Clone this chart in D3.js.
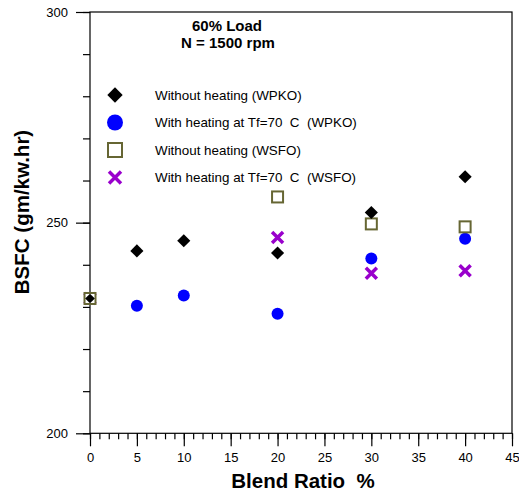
<!DOCTYPE html>
<html>
<head>
<meta charset="utf-8">
<script src="https://cdn.jsdelivr.net/npm/d3@7"></script>
<style>
  body { margin: 0; background: #fff; }
  svg { font-family: "Liberation Sans", Arial, sans-serif; }
  svg text { white-space: pre; }
</style>
</head>
<body>
<svg id="chart" width="519" height="495"></svg>
<script>
// data
const blendRatio = [0, 5, 10, 20, 30, 40];
const woHeatWPKO = [232, 243.3, 245.7, 242.8, 252.4, 260.9];
const heatWPKO = [232, 230.3, 232.7, 228.4, 241.5, 246.2];
const woHeatWSFO = [232, null, null, 256.1, 249.7, 249.0];
const heatWSFO = [232, null, null, 246.5, 238.0, 238.6];
const xTicks = [0, 5, 10, 15, 20, 25, 30, 35, 40, 45];
const yTicks = [200, 250, 300];
const legendLabels = [
  'Without heating (WPKO)',
  'With heating at Tf=70  C  (WPKO)',
  'Without heating (WSFO)',
  'With heating at Tf=70  C  (WSFO)'
];

const svg = d3.select('#chart');
const plotL = 90, plotR = 512, plotT = 12, plotB = 433.3;

const x = d3.scaleLinear().domain([0, 45]).range([plotL, plotR]);
const y = d3.scaleLinear().domain([200, 300]).range([plotB, plotT]);

const olive = '#666633';
const purple = '#9900cc';

// frame
svg.append('rect')
  .attr('x', plotL).attr('y', plotT)
  .attr('width', plotR - plotL).attr('height', plotB - plotT)
  .attr('fill', 'none').attr('stroke', '#000').attr('stroke-width', 1.2);

// y axis: major + minor ticks, all outward
const yAxis = svg.append('g').attr('transform', `translate(${plotL},0)`);
yAxis.call(d3.axisLeft(y).tickValues(d3.range(200, 301, 10)).tickSize(7).tickFormat(''));
yAxis.append('g').call(d3.axisLeft(y).tickValues(yTicks).tickSize(14).tickPadding(8).tickFormat(d3.format('d')));
yAxis.selectAll('.domain').remove();
yAxis.selectAll('line').attr('stroke', '#000').attr('stroke-width', 1.2);
yAxis.selectAll('text').attr('font-size', 13).attr('fill', '#000')
  .attr('font-family', '"Liberation Sans", Arial, sans-serif');

// x axis: minor every 1, major every 5
const xAxis = svg.append('g').attr('transform', `translate(0,${plotB})`);
xAxis.call(d3.axisBottom(x).tickValues(d3.range(0, 46, 1)).tickSize(6).tickFormat(''));
xAxis.append('g').call(d3.axisBottom(x).tickValues(xTicks).tickSize(13).tickPadding(6).tickFormat(d3.format('d')));
xAxis.selectAll('.domain').remove();
xAxis.selectAll('line').attr('stroke', '#000').attr('stroke-width', 1.2);
xAxis.selectAll('text').attr('font-size', 13).attr('fill', '#000')
  .attr('font-family', '"Liberation Sans", Arial, sans-serif');

// axis titles
svg.append('text')
  .attr('x', 303).attr('y', 488)
  .attr('text-anchor', 'middle')
  .attr('font-size', 20.5).attr('font-weight', 'bold')
  .text('Blend Ratio  %');

svg.append('text')
  .attr('transform', 'translate(29,212) rotate(-90)')
  .attr('text-anchor', 'middle')
  .attr('font-size', 20.5).attr('font-weight', 'bold')
  .text('BSFC (gm/kw.hr)');

// chart title
svg.append('text').attr('x', 227).attr('y', 31)
  .attr('text-anchor', 'middle').attr('font-size', 15).attr('font-weight', 'bold')
  .text('60% Load');
svg.append('text').attr('x', 228).attr('y', 48)
  .attr('text-anchor', 'middle').attr('font-size', 15).attr('font-weight', 'bold')
  .text('N = 1500 rpm');

// marker drawers
function drawCircle(g, cx, cy, r) {
  g.append('circle').attr('cx', cx).attr('cy', cy).attr('r', r).attr('fill', '#0000ff');
}
function drawSquare(g, cx, cy, s) {
  g.append('rect').attr('x', cx - s / 2).attr('y', cy - s / 2)
    .attr('width', s).attr('height', s)
    .attr('fill', '#fff').attr('stroke', olive).attr('stroke-width', 2);
}
function drawCross(g, cx, cy, s) {
  g.append('path')
    .attr('d', `M${cx - s},${cy - s}L${cx + s},${cy + s}M${cx - s},${cy + s}L${cx + s},${cy - s}`)
    .attr('stroke', purple).attr('stroke-width', 3.5).attr('fill', 'none');
}
function drawDiamond(g, cx, cy, sz) {
  g.append('path').attr('d', d3.symbol().type(d3.symbolDiamond2).size(sz)())
    .attr('transform', `translate(${cx},${cy})`).attr('fill', '#000');
}

const pts = svg.append('g');
blendRatio.forEach((b, i) => {
  if (heatWPKO[i] != null) drawCircle(pts, x(b), y(heatWPKO[i]), 6);
});
blendRatio.forEach((b, i) => {
  if (heatWSFO[i] != null) drawCross(pts, x(b), y(heatWSFO[i]), 5.5);
});
blendRatio.forEach((b, i) => {
  if (woHeatWSFO[i] != null) drawSquare(pts, x(b), y(woHeatWSFO[i]), 11);
});
blendRatio.forEach((b, i) => {
  if (woHeatWPKO[i] != null) drawDiamond(pts, x(b), y(woHeatWPKO[i]), b === 0 ? 60 : 110);
});

// legend
const lg = svg.append('g');
const rowY = [95, 122.5, 150, 177.5];
drawDiamond(lg, 115, rowY[0], 150);
drawCircle(lg, 115, rowY[1], 8);
drawSquare(lg, 115, rowY[2], 14);
drawCross(lg, 115, rowY[3], 6);
legendLabels.forEach((t, i) => {
  lg.append('text').attr('x', 155).attr('y', rowY[i] + 4.5)
    .attr('font-size', 13.4).attr('fill', '#000').text(t);
});
</script>
</body>
</html>
